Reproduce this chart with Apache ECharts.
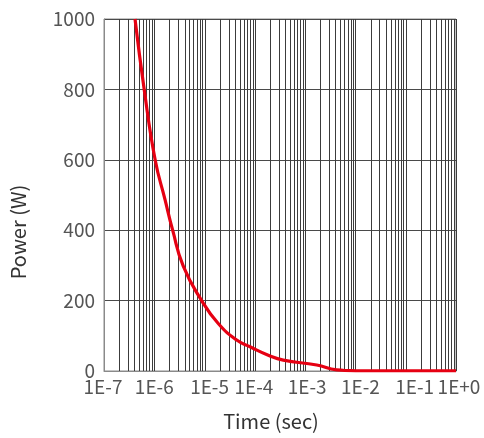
<!DOCTYPE html>
<html><head><meta charset="utf-8">
<script src="https://cdn.jsdelivr.net/npm/echarts@6/dist/echarts.min.js"></script>
<style>html,body{margin:0;padding:0;background:#fff}#c{width:484px;height:438px}</style>
</head><body><div id="c"></div>
<script>
const timeSec = [4.14e-7, 6.3e-7, 1.04e-6, 1.64e-6, 2.32e-6, 3.77e-6, 8.77e-6, 1.87e-5, 4.35e-5, 8.0e-5, 1.85e-4, 3.67e-4, 1.7e-3, 4.24e-3, 7.77e-3, 1e-2, 1e-1, 1];
const powerW  = [1000, 800, 600, 486, 400, 298, 200, 135, 88, 69, 45, 31, 17, 3, 1, 0.6, 0.6, 0.6];
const yTicks = [0, 200, 400, 600, 800, 1000];
const xTickExps = [-7, -6, -5, -4, -3, -2, -1, 0];

// label placement tweaks (px) to mimic the reference's hand-placed tick labels
const LABEL_SHIFT = { '-7': -1, '-6': 0, '-5': 5, '-4': -1, '-3': 2, '-2': 5, '-1': 9, '0': 3 };
const FONT = '"Noto Sans CJK JP", "Noto Sans", sans-serif';
const gridVals = [];
for (let e = xTickExps[0]; e < xTickExps[xTickExps.length - 1]; e++) for (let m = 2; m <= 10; m++) gridVals.push(m * Math.pow(10, e));

const rich = {};
xTickExps.forEach(e => {
  const s = LABEL_SHIFT[String(e)] || 0;
  rich['e' + (e + 10)] = { fontSize: 19, fontFamily: FONT, color: '#555', padding: s >= 0 ? [0, 0, 0, 2 * s] : [0, -2 * s, 0, 0] };
});

const chart = echarts.init(document.getElementById('c'));
chart.setOption({
  animation: false,
  grid: { left: 104, right: 28, top: 19, bottom: 67, show: true, borderColor: '#8a8a8a', borderWidth: 1 },
  xAxis: {
    type: 'log', logBase: 10, min: Math.pow(10, xTickExps[0]), max: Math.pow(10, xTickExps[xTickExps.length - 1]), splitNumber: 7,
    axisLine: { show: true, lineStyle: { color: '#8a8a8a', width: 1 } },
    axisTick: { show: false },
    splitLine: { show: false },
    axisLabel: {
      color: '#555', fontSize: 19, fontFamily: FONT, margin: 6, hideOverlap: false,
      formatter: v => { const e = Math.round(Math.log10(v)); return '{e' + (e + 10) + '|1E' + (e < 0 ? e : '+' + e) + '}'; },
      rich: rich
    }
  },
  yAxis: {
    type: 'value', min: yTicks[0], max: yTicks[yTicks.length - 1], interval: 200,
    axisLine: { show: true, lineStyle: { color: '#8a8a8a', width: 1 } },
    axisTick: { show: false },
    splitLine: { show: true, lineStyle: { color: '#4a4a4a', width: 1 } },
    axisLabel: { color: '#555', fontSize: 19, fontFamily: FONT, margin: 9, formatter: v => String(v) }
  },
  graphic: [
    { type: 'text', x: 271, y: 421, style: { text: 'Time (sec)', fill: '#333', font: '20px ' + FONT, align: 'center', verticalAlign: 'middle' } },
    { type: 'text', x: 18.5, y: 232, rotation: Math.PI / 2, style: { text: 'Power (W)', fill: '#333', font: '20px ' + FONT, align: 'center', verticalAlign: 'middle' } }
  ],
  series: [
    {
      type: 'custom', silent: true, z: 1,
      data: gridVals,
      renderItem: (params, api) => {
        const v = api.value(0);
        const p0 = api.coord([v, yTicks[0]]);
        const p1 = api.coord([v, yTicks[yTicks.length - 1]]);
        const x = Math.round(p0[0]) + 0.5;
        return { type: 'line', shape: { x1: x, y1: p0[1], x2: x, y2: p1[1] }, style: { stroke: '#3c3c3c', lineWidth: 1 } };
      },
      encode: { x: 0 }
    },
    {
      type: 'line', smooth: 0.5, showSymbol: false, clip: true, z: 5,
      lineStyle: { color: '#e60012', width: 3.2 },
      data: timeSec.map((t, i) => [t, powerW[i]])
    }
  ]
});
</script></body></html>
